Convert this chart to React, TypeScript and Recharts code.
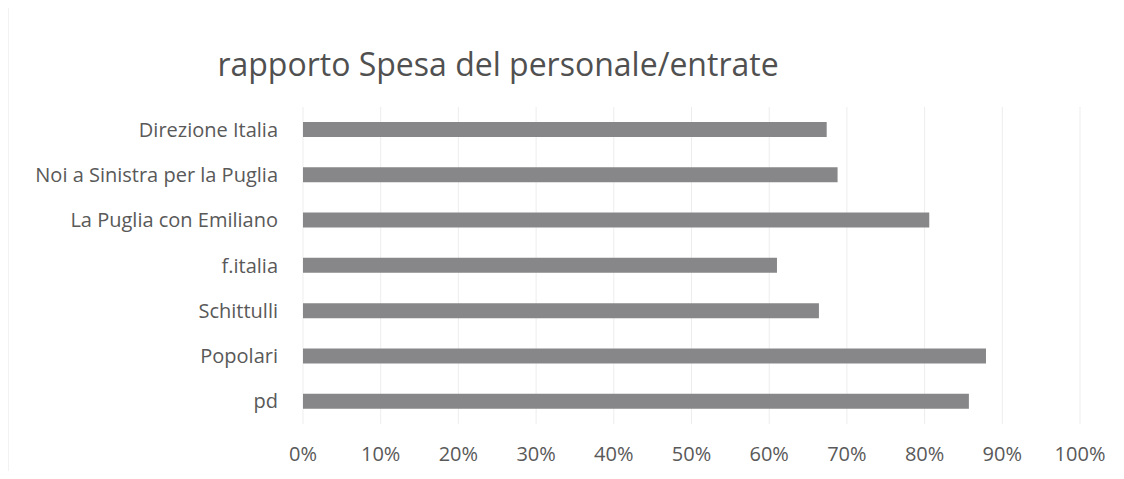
import { BarChart, Bar, XAxis, YAxis, CartesianGrid } from 'recharts';

const parties = [
  'Direzione Italia',
  'Noi a Sinistra per la Puglia',
  'La Puglia con Emiliano',
  'f.italia',
  'Schittulli',
  'Popolari',
  'pd',
];
const ratio = [0.674, 0.688, 0.806, 0.61, 0.664, 0.879, 0.857];
const xTicks = [0, 0.1, 0.2, 0.3, 0.4, 0.5, 0.6, 0.7, 0.8, 0.9, 1];

const data = parties.map((name, i) => ({ name, ratio: ratio[i] }));

const font = '"Open Sans", sans-serif';

export default function App() {
  return (
    <div
      style={{
        position: 'absolute',
        left: 0,
        top: 0,
        width: 1124,
        height: 479,
        background: '#fff',
        fontFamily: font,
      }}
    >
      <div
        style={{
          position: 'absolute',
          left: 8,
          top: 8,
          width: 1108,
          height: 463,
          borderLeft: '1px solid #f2f2f2',
        }}
      />
      <div
        style={{
          position: 'absolute',
          left: 0,
          width: 996,
          top: 44,
          textAlign: 'center',
          fontSize: 32,
          color: '#505050',
          lineHeight: '40px',
        }}
      >
        rapporto Spesa del personale/entrate
      </div>
      <BarChart
        width={1124}
        height={479}
        data={data}
        layout='vertical'
        margin={{ top: 107, right: 44, left: 0, bottom: 0 }}
        barCategoryGap={15}
      >
        <CartesianGrid horizontal={false} stroke='#ededed' />
        <XAxis
          type='number'
          domain={[0, 1]}
          ticks={xTicks}
          tickFormatter={(v) => `${Math.round(Number(v) * 100)}%`}
          axisLine={false}
          tickLine={false}
          tickSize={0}
          tickMargin={23}
          height={55}
          tick={{ fill: '#595959', fontSize: 20, fontFamily: font }}
          interval={0}
        />
        <YAxis
          type='category'
          dataKey='name'
          width={303}
          axisLine={false}
          tickLine={false}
          tickSize={0}
          tickMargin={25}
          tick={{ fill: '#595959', fontSize: 20, fontFamily: font }}
          interval={0}
        />
        <Bar dataKey='ratio' fill='#878789' barSize={15} isAnimationActive={false} />
      </BarChart>
    </div>
  );
}
